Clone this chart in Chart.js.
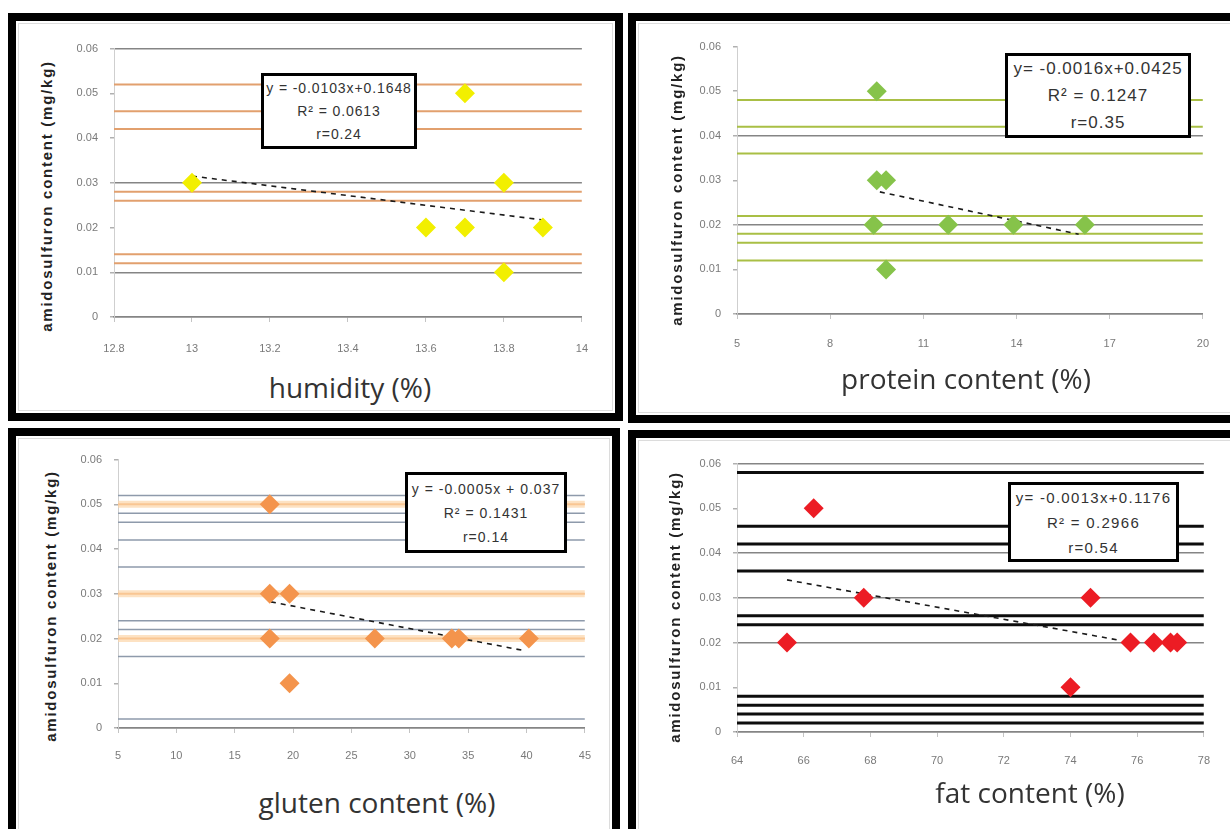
<!DOCTYPE html>
<html lang="en">
<head>
<meta charset="UTF-8" />
<title>Amidosulfuron content vs grain quality</title>
<script src="https://cdn.jsdelivr.net/npm/chart.js"></script>
<style>
  body{margin:0;width:1230px;height:829px;overflow:hidden;background:#fff;position:relative;font-family:'Liberation Sans',Arial,sans-serif}
  .panel{position:absolute;border:8px solid #000;box-sizing:border-box;background:#fff}
  .panel::after{content:'';position:absolute;left:2px;top:2px;right:2px;bottom:2px;border:1px solid #dcdcdc}
  .plot{position:absolute}
  .ytitle{position:absolute;transform:translate(-50%,-50%) rotate(-90deg);white-space:nowrap;font-weight:bold;font-size:15px;letter-spacing:1.75px;color:#222}
  .xtitle{position:absolute;transform:translate(-50%,-50%);white-space:nowrap;font-family:'Open Sans',sans-serif;font-size:28px;color:#333}
  .eq{position:absolute;border:3px solid #000;background:#fff;box-sizing:border-box;display:flex;flex-direction:column;justify-content:center;align-items:center;color:#333;white-space:nowrap}
</style>
</head>
<body>
  <div class="panel" style="left:8px;top:13px;width:615px;height:408px"></div>
  <div class="panel" style="left:628px;top:13px;width:620px;height:410px"></div>
  <div class="panel" style="left:8px;top:428px;width:612px;height:420px"></div>
  <div class="panel" style="left:628px;top:430px;width:620px;height:420px"></div>

  <canvas class="plot" id="c1" width="550" height="333" style="left:58px;top:30px"></canvas>
  <canvas class="plot" id="c2" width="546" height="332" style="left:681px;top:28px"></canvas>
  <canvas class="plot" id="c3" width="545" height="333" style="left:62px;top:441px"></canvas>
  <canvas class="plot" id="c4" width="546" height="333" style="left:681px;top:445px"></canvas>

  <div class="ytitle" style="left:46px;top:196px">amidosulfuron content (mg/kg)</div>
  <div class="ytitle" style="left:676px;top:190px">amidosulfuron content (mg/kg)</div>
  <div class="ytitle" style="left:50px;top:606px">amidosulfuron content (mg/kg)</div>
  <div class="ytitle" style="left:674px;top:607px">amidosulfuron content (mg/kg)</div>

  <div class="xtitle" style="left:350px;top:387px">humidity (%)</div>
  <div class="xtitle" style="left:966px;top:378px">protein content (%)</div>
  <div class="xtitle" style="left:377px;top:802px">gluten content (%)</div>
  <div class="xtitle" style="left:1030px;top:792px">fat content (%)</div>

  <div class="eq" style="left:261px;top:73px;width:156px;height:76px;font-size:14px;line-height:23px;letter-spacing:0.9px">
    <div>y = -0.0103x+0.1648</div><div>R² = 0.0613</div><div>r=0.24</div>
  </div>
  <div class="eq" style="left:1005px;top:53px;width:186px;height:85px;font-size:17px;line-height:27px;letter-spacing:1px">
    <div>y= -0.0016x+0.0425</div><div>R² = 0.1247</div><div>r=0.35</div>
  </div>
  <div class="eq" style="left:405px;top:472px;width:162px;height:81px;font-size:14px;line-height:24px;letter-spacing:1px">
    <div>y = -0.0005x + 0.037</div><div>R² = 0.1431</div><div>r=0.14</div>
  </div>
  <div class="eq" style="left:1008px;top:482px;width:171px;height:80px;font-size:15px;line-height:25px;letter-spacing:1.3px">
    <div>y= -0.0013x+0.1176</div><div>R² = 0.2966</div><div>r=0.54</div>
  </div>

<script>
// shared y axis
const yTicks = ['0', '0.01', '0.02', '0.03', '0.04', '0.05', '0.06'];

// humidity
const humX = [13, 13.7, 13.8, 13.6, 13.7, 13.9, 13.8];
const humY = [0.03, 0.05, 0.03, 0.02, 0.02, 0.02, 0.01];
const humTrendX = [13, 13.9];
const humTrendY = [0.0315, 0.0217];
const humTicks = ['12.8', '13', '13.2', '13.4', '13.6', '13.8', '14'];
const humGrid = [0, 0.01, 0.03, 0.06];
const humOrange = [0.052, 0.046, 0.042, 0.028, 0.026, 0.014, 0.012];

// protein
const protX = [9.5, 9.5, 9.8, 9.4, 11.8, 13.9, 16.2, 9.8];
const protY = [0.05, 0.03, 0.03, 0.02, 0.02, 0.02, 0.02, 0.01];
const protTrendX = [9.6, 16.0];
const protTrendY = [0.0274, 0.0179];
const protTicks = ['5', '8', '11', '14', '17', '20'];
const protGrid = [0, 0.02, 0.04];
const protGreen = [0.048, 0.042, 0.036, 0.022, 0.018, 0.016, 0.012];

// gluten
const glutX = [18, 18, 19.7, 18, 27, 33.6, 34.2, 40.2, 19.7];
const glutY = [0.05, 0.03, 0.03, 0.02, 0.02, 0.02, 0.02, 0.02, 0.01];
const glutTrendX = [18.1, 39.6];
const glutTrendY = [0.0282, 0.0174];
const glutTicks = ['5', '10', '15', '20', '25', '30', '35', '40', '45'];
const glutGrid = [0];
const glutOrange = [0.05, 0.03, 0.02];
const glutBlue = [0.052, 0.048, 0.046, 0.042, 0.036, 0.024, 0.022, 0.016, 0.002];

// fat
const fatX = [66.3, 67.8, 74.6, 65.5, 75.8, 76.5, 77.0, 77.2, 74.0];
const fatY = [0.05, 0.03, 0.03, 0.02, 0.02, 0.02, 0.02, 0.02, 0.01];
const fatTrendX = [65.5, 75.4];
const fatTrendY = [0.034, 0.0206];
const fatTicks = ['64', '66', '68', '70', '72', '74', '76', '78'];
const fatGrid = [0, 0.02, 0.03, 0.04, 0.06];
const fatBlack = [0.058, 0.046, 0.042, 0.036, 0.026, 0.024, 0.008, 0.006, 0.004, 0.002];

Chart.defaults.font.family = "'Liberation Sans', Arial, sans-serif";
Chart.defaults.font.size = 11;
Chart.defaults.color = '#7a7a7a';

function hLines(vals, xMin, xMax, color, width) {
  return vals.map(v => ({
    type: 'line', data: [{x: xMin, y: v}, {x: xMax, y: v}],
    borderColor: color, borderWidth: width, pointRadius: 0, order: 5
  }));
}

function makeChart(id, p) {
  const datasets = [
    {type: 'scatter', data: p.x.map((v, i) => ({x: v, y: p.y[i]})),
     pointStyle: 'rectRot', pointRadius: 10, backgroundColor: p.color, borderWidth: 0, order: 1},
    {type: 'line', data: p.trendX.map((v, i) => ({x: v, y: p.trendY[i]})),
     borderColor: '#1a1a1a', borderWidth: 1.6, borderDash: [5, 5], pointRadius: 0, order: 2}
  ];
  p.lines.forEach(l => datasets.push(...hLines(l.vals, p.xMin, p.xMax, l.color, l.width)));

  new Chart(document.getElementById(id), {
    type: 'scatter',
    data: {datasets},
    options: {
      responsive: false, animation: false,
      layout: {padding: {top: 14, right: 20, left: 0, bottom: 0}},
      plugins: {legend: {display: false}, tooltip: {enabled: false}},
      scales: {
        x: {
          type: 'linear', min: p.xMin, max: p.xMax,
          ticks: {stepSize: p.xStep, padding: p.labelPad, maxRotation: 0, autoSkip: false,
                  callback: (v, i) => p.xTicks[i]},
          grid: {drawOnChartArea: false, tickLength: 5, color: '#c4c4c4'},
          border: {color: '#858585', width: 1.5},
          afterFit: s => { s.height = 46; }
        },
        y: {
          min: 0, max: 0.06,
          ticks: {stepSize: 0.01, padding: 12, callback: (v, i) => yTicks[i]},
          grid: {
            tickLength: 4, tickColor: '#b0b0b0', lineWidth: 1.5,
            color: c => p.grid.some(g => Math.abs(g - c.tick.value) < 1e-9) ? '#858585' : 'rgba(0,0,0,0)'
          },
          border: {color: '#cfcfcf', width: 1},
          afterFit: s => { s.width = 56; }
        }
      }
    }
  });
}

makeChart('c1', {x: humX, y: humY, trendX: humTrendX, trendY: humTrendY, xTicks: humTicks,
  xMin: 12.8, xMax: 14, xStep: 0.2, labelPad: 20, color: '#f2ef00', grid: humGrid,
  lines: [{vals: humOrange, color: '#e2a06e', width: 2}]});

makeChart('c2', {x: protX, y: protY, trendX: protTrendX, trendY: protTrendY, xTicks: protTicks,
  xMin: 5, xMax: 20, xStep: 3, labelPad: 18, color: '#86c34a', grid: protGrid,
  lines: [{vals: protGreen, color: '#a9bf45', width: 2}]});

makeChart('c3', {x: glutX, y: glutY, trendX: glutTrendX, trendY: glutTrendY, xTicks: glutTicks,
  xMin: 5, xMax: 45, xStep: 5, labelPad: 16, color: '#f4944c', grid: glutGrid,
  lines: [{vals: glutOrange, color: 'rgba(252,214,170,0.7)', width: 7},
          {vals: glutOrange, color: '#f0a060', width: 2},
          {vals: glutBlue, color: '#8e9aab', width: 1.5}]});

makeChart('c4', {x: fatX, y: fatY, trendX: fatTrendX, trendY: fatTrendY, xTicks: fatTicks,
  xMin: 64, xMax: 78, xStep: 2, labelPad: 17, color: '#ec1c24', grid: fatGrid,
  lines: [{vals: fatBlack, color: '#0d0d0d', width: 3}]});
</script>
</body>
</html>
